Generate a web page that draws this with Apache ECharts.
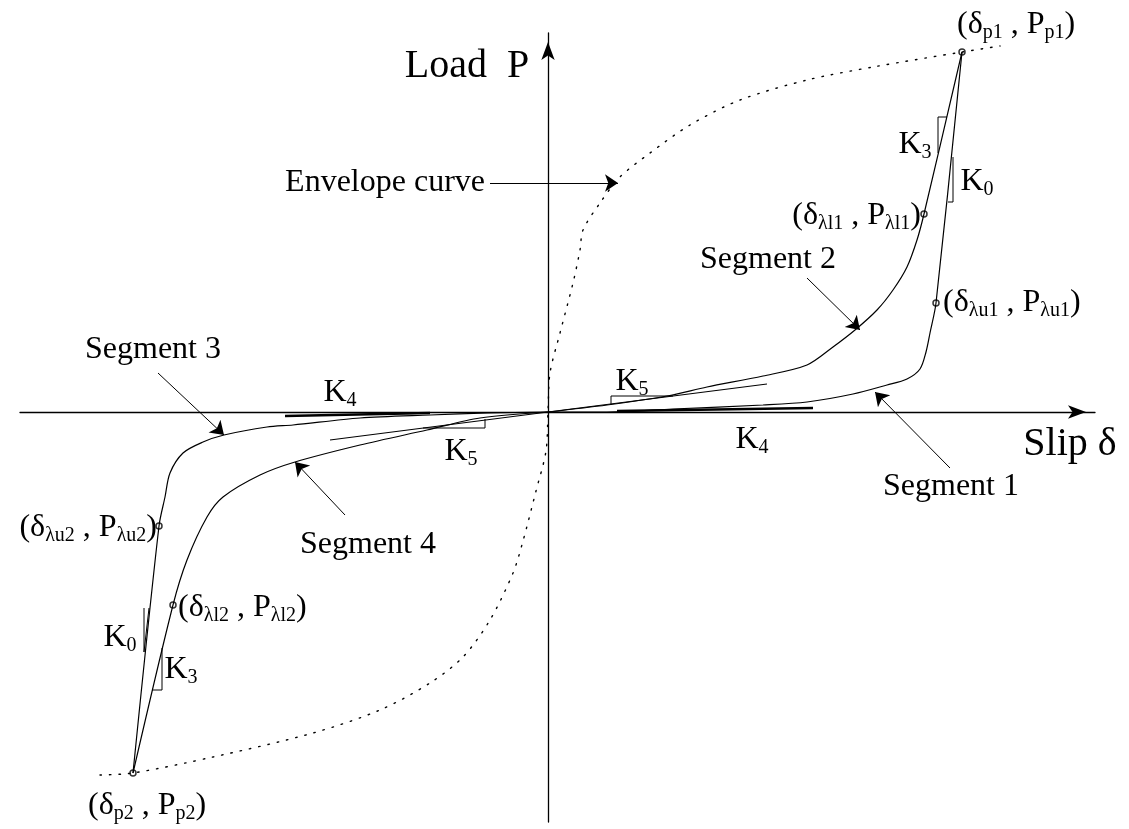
<!DOCTYPE html>
<html>
<head>
<meta charset="utf-8">
<title>Load - slip model</title>
<script src="https://cdn.jsdelivr.net/npm/echarts@6/dist/echarts.min.js"></script>
<style>
html,body{margin:0;padding:0;background:#fff;}
#chart-container{width:1129px;height:829px;}
</style>
</head>
<body>
<div id="chart-container"></div>
<script>
// values, origin at the axis crossing
var envelope = [[-448,-363],[-415,-361],[-335,-345],[-235,-321],[-168,-298],[-118,-271],[-85,-245],[-58,-208],[-35,-161],[-25,-129],[-12,-79],[-2,-39],[0,0],[2,39],[12,79],[25,129],[32,162],[35,182],[52,209],[72,235],[102,259],[142,287],[192,312],[259,332],[325,345],[414,360],[452,366]];
var segment1 = [[0,0],[59,0],[125,3],[215,7],[259,10],[305,18],[339,27],[359,33],[372,43],[378,60],[382,79],[388,109],[414,360]];
var segment2 = [[0,0],[59,7],[119,16],[159,25],[215,36],[259,47],[285,65],[307,82],[329,102],[345,122],[359,145],[369,172],[376,198],[414,360]];
var segment3 = [[-415,-361],[-389,-114],[-383,-85],[-378,-61],[-365,-41],[-345,-30],[-324,-23],[-281,-15],[-255,-13],[-188,-6],[-118,-3],[-60,-1],[0,0]];
var segment4 = [[-415,-361],[-375,-193],[-361,-148],[-341,-105],[-325,-85],[-288,-63],[-253,-50],[-188,-33],[-121,-18],[-68,-6],[0,0]];
var keyPoints = [[414,360],[376,198],[388,109],[-415,-361],[-389,-114],[-375,-193]];
// tangent lines (K4, K5) and slope triangles
var k5Right = [[0,0],[219,28]];
var k5Left = [[0,0],[-218,-28]];
var k4Right = [[69,1],[265,4]];
var k4Left = [[-263,-4],[-118,-1]];
var triK5Right = [[63,7],[63,16],[125,16]];
var triK5Left = [[-63,-7],[-63,-16],[-125,-16]];
var triK3Right = [[390,259],[390,295],[399,295]];
var triK0Right = [[405,255],[405,210],[400,210]];
var triK0Left = [[-404,-196],[-404,-240],[-399,-196]];
var triK3Left = [[-386,-236],[-386,-278],[-396,-278]];
// pointer arrows [from, to]
var pointers = [
    [[-58,229],[70,229]],
    [[259,134],[312,82]],
    [[402,-56],[327,20]],
    [[-390,39],[-324,-23]],
    [[-203,-103],[-253,-50]]
];

var FONT = 'Liberation Serif';
var myChart = echarts.init(document.getElementById('chart-container'));

function curve(data, width, extra) {
    var s = {
        type: 'line',
        data: data,
        showSymbol: false,
        smooth: 0.3,
        silent: true,
        animation: false,
        lineStyle: {color: '#000', width: width}
    };
    for (var k in extra) s[k] = extra[k];
    return s;
}
function straight(data, width) {
    return curve(data, width, {smooth: false});
}
function txt(x, y, text, size, align) {
    return {
        type: 'text',
        x: x,
        y: y,
        style: {
            text: text,
            fontFamily: FONT,
            fontSize: size,
            fill: '#000',
            align: align || 'left',
            verticalAlign: 'middle',
            lineHeight: size + 4,
            rich: {
                s: {fontFamily: FONT, fontSize: 20, lineHeight: 20, padding: [16, 0, 0, 0], fill: '#000'}
            }
        }
    };
}

var option = {
    backgroundColor: '#fff',
    animation: false,
    grid: {left: 20, right: 34, top: 33, bottom: 7},
    xAxis: {
        type: 'value',
        min: -528,
        max: 547,
        axisLine: {lineStyle: {color: '#000', width: 1.3}, symbol: ['none', 'arrow'], symbolSize: [10, 18], symbolOffset: [0, -9]},
        axisTick: {show: false},
        axisLabel: {show: false},
        splitLine: {show: false}
    },
    yAxis: {
        type: 'value',
        min: -410,
        max: 379,
        axisLine: {lineStyle: {color: '#000', width: 1.3}, symbol: ['none', 'arrow'], symbolSize: [10, 18], symbolOffset: [0, -9]},
        axisTick: {show: false},
        axisLabel: {show: false},
        splitLine: {show: false}
    },
    series: [
        curve(envelope, 1.4, {lineStyle: {color: '#000', width: 1.4, type: [1.5, 8], cap: 'round'}}),
        curve(segment1, 1.2),
        curve(segment2, 1.2),
        curve(segment3, 1.2),
        curve(segment4, 1.2),
        straight(k5Right, 1.1),
        straight(k5Left, 1.1),
        straight(k4Right, 2.6),
        straight(k4Left, 2.6),
        straight(triK5Right, 1),
        straight(triK5Left, 1),
        straight(triK3Right, 1),
        straight(triK0Right, 1),
        straight(triK0Left, 1),
        straight(triK3Left, 1),
        {
            type: 'lines',
            coordinateSystem: 'cartesian2d',
            silent: true,
            symbol: ['none', 'arrow'],
            symbolSize: 13,
            lineStyle: {color: '#000', width: 1, opacity: 1},
            data: pointers.map(function (p) { return {coords: p}; })
        },
        {
            type: 'scatter',
            silent: true,
            symbol: 'circle',
            symbolSize: 6,
            itemStyle: {color: '#fff', borderColor: '#000', borderWidth: 1.5},
            data: keyPoints
        }
    ],
    graphic: [
        txt(467, 66, 'Load  P', 40, 'center'),
        txt(1070, 444, 'Slip δ', 40, 'center'),
        txt(485, 183, 'Envelope curve', 32, 'right'),
        txt(700, 260, 'Segment 2', 32),
        txt(883, 487, 'Segment 1', 32),
        txt(85, 350, 'Segment 3', 32),
        txt(300, 545, 'Segment 4', 32),
        txt(752, 440, 'K{s|4}', 32, 'center'),
        txt(632, 382, 'K{s|5}', 32, 'center'),
        txt(340, 393, 'K{s|4}', 32, 'center'),
        txt(461, 452, 'K{s|5}', 32, 'center'),
        txt(915, 145, 'K{s|3}', 32, 'center'),
        txt(977, 182, 'K{s|0}', 32, 'center'),
        txt(120, 638, 'K{s|0}', 32, 'center'),
        txt(181, 670, 'K{s|3}', 32, 'center'),
        txt(957, 25, '(δ{s|p1} , P{s|p1})', 32),
        txt(921, 216, '(δ{s|λl1} , P{s|λl1})', 32, 'right'),
        txt(943, 303, '(δ{s|λu1} , P{s|λu1})', 32),
        txt(157, 528, '(δ{s|λu2} , P{s|λu2})', 32, 'right'),
        txt(178, 608, '(δ{s|λl2} , P{s|λl2})', 32),
        txt(88, 806, '(δ{s|p2} , P{s|p2})', 32)
    ]
};
myChart.setOption(option);
</script>
</body>
</html>
